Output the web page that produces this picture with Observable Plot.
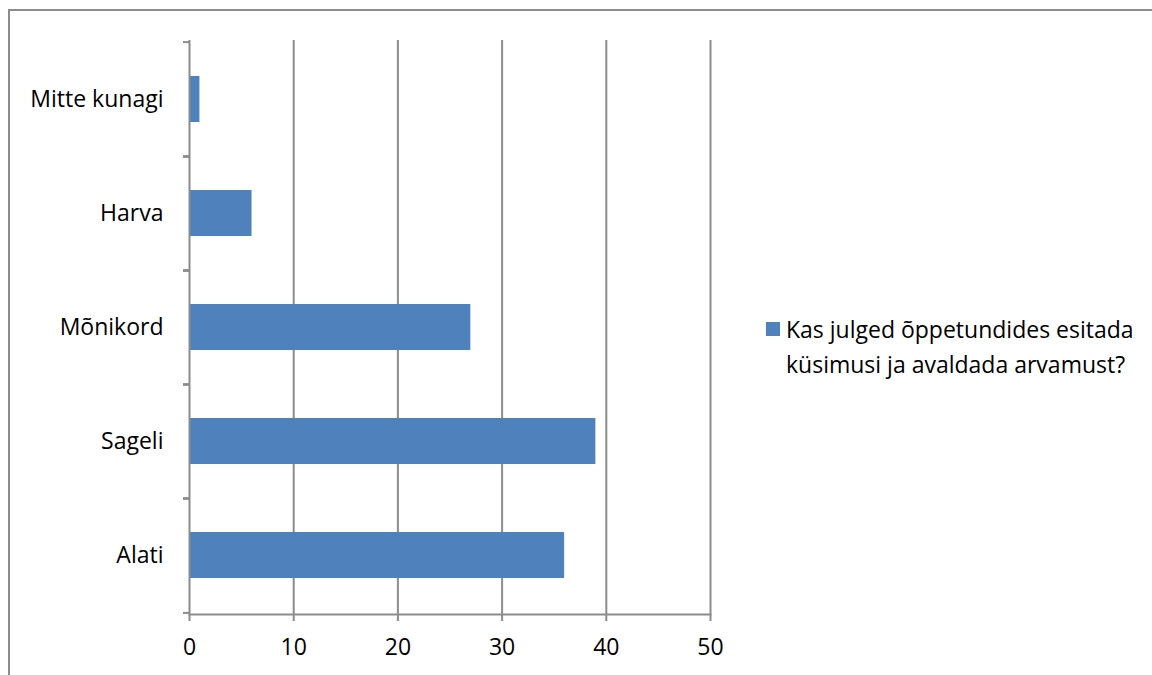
<!DOCTYPE html>
<html>
<head>
<meta charset="utf-8">
<script src="https://cdn.jsdelivr.net/npm/d3@7"></script>
<script src="https://cdn.jsdelivr.net/npm/@observablehq/plot@0.6"></script>
<style>
  html, body { margin: 0; padding: 0; background: #fff; }
  #wrap { position: relative; width: 1152px; height: 675px; overflow: hidden; font-family: "Open Sans", sans-serif; }
  #border { position: absolute; left: 8px; top: 9px; right: -10px; bottom: -10px; border-left: 2px solid #8c8c8c; border-top: 2px solid #8c8c8c; }
  #chart { position: absolute; left: 0; top: 0; }
  #legend { position: absolute; left: 766px; top: 312px; font-size: 23px; line-height: 35px; color: #000; }
  #legend .sw { position: absolute; left: 0; top: 10px; width: 14px; height: 14px; background: #4f81bd; }
  #legend .tx { margin-left: 20px; white-space: nowrap; }
</style>
</head>
<body>
<div id="wrap">
  <div id="border"></div>
  <div id="chart"></div>
  <div id="legend"></div>
</div>
<script>
const categories = ["Mitte kunagi", "Harva", "Mõnikord", "Sageli", "Alati"];
const values = [1, 6, 27, 39, 36];
const xTicks = [0, 10, 20, 30, 40, 50];
const seriesName = ["Kas julged õppetundides esitada", "küsimusi ja avaldada arvamust?"];

const data = categories.map((c, i) => ({category: c, value: values[i]}));

const marginTop = 40, marginBottom = 61, marginLeft = 189, marginRight = 442;
const H = 675;
const band = (H - marginTop - marginBottom) / categories.length;

const chart = Plot.plot({
  width: 1152,
  height: H,
  marginTop, marginBottom, marginLeft, marginRight,
  style: {fontFamily: "Open Sans, sans-serif", fontSize: "23px", color: "#000", background: "transparent"},
  x: {domain: [0, 50], ticks: xTicks, label: null},
  y: {domain: categories, padding: 0, label: null},
  marks: [
    Plot.gridX(xTicks.slice(1), {stroke: "#8c8c8c", strokeOpacity: 1, strokeWidth: 2}),
    Plot.barX(data, {y: "category", x: "value", fill: "#4f81bd", insetTop: 34, insetBottom: 34}),
    Plot.ruleX([0], {stroke: "#8c8c8c", strokeWidth: 2}),
    Plot.axisY({tickSize: 0, tickPadding: 26, fontSize: 23, label: null}),
    Plot.axisY({tickSize: 6, text: null, dy: -band / 2, stroke: "#8c8c8c", strokeWidth: 2, label: null}),
    Plot.axisY({tickSize: 6, text: null, dy: band / 2, stroke: "#8c8c8c", strokeWidth: 2, label: null}),
    Plot.axisX({ticks: xTicks, tickSize: 7, tickPadding: 17, stroke: "#8c8c8c", strokeWidth: 2, fontSize: 23, label: null}),
    Plot.frame({anchor: "bottom", stroke: "#8c8c8c", strokeWidth: 2})
  ]
});
document.getElementById("chart").appendChild(chart);

const legend = document.getElementById("legend");
legend.innerHTML = '<div class="sw"></div><div class="tx">' + seriesName.join("<br>") + '</div>';
</script>
</body>
</html>
